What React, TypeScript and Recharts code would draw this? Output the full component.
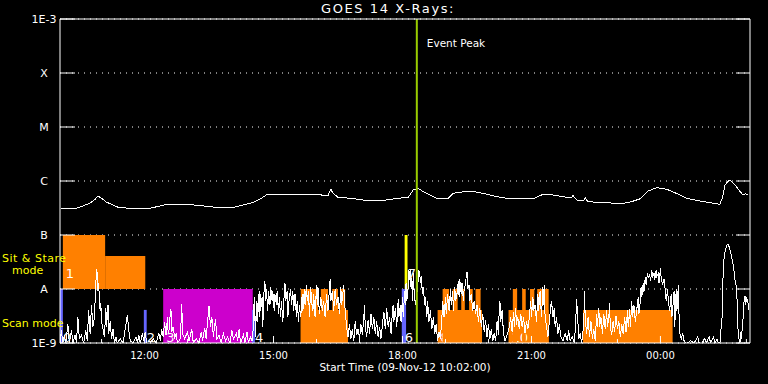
import { ComposedChart, Line, XAxis, YAxis, CartesianGrid, ReferenceArea, ReferenceLine } from "recharts"

// time axis: minutes after 09-Nov-12 10:02:00
const hourTicks = [58, 118, 178, 238, 298, 358, 418, 478, 538, 598, 658, 718, 778, 838, 898, 958]
const majorTicks = [118, 298, 478, 658, 838]
const majorLabels = ["12:00", "15:00", "18:00", "21:00", "00:00"]

const fluxTicks = [1e-9, 1e-8, 1e-7, 1e-6, 1e-5, 1e-4, 1e-3]
const fluxLabels = ["1E-9", "A", "B", "C", "M", "X", "1E-3"]

const eventPeak = 498

// 1-8 A channel, units of 1e-7 W/m2
const longChannel = [
  [1, 3.12], [23, 3.12], [32, 3.44], [42, 3.92], [49, 4.58], [53, 5.27], [58, 4.79], [65, 4.04], [72, 3.71],
  [81, 3.26], [93, 3.16], [121, 3.03], [135, 3.34], [149, 3.71], [167, 3.75], [186, 3.6], [205, 3.4],
  [223, 3.2], [242, 3.26], [256, 3.6], [270, 4.04], [281, 4.79], [288, 5.51], [307, 5.57], [335, 5.74],
  [358, 5.74], [370, 5.34], [374, 5.34], [376, 6.2], [378, 7.02], [381, 5.92], [388, 4.99], [405, 4.79],
  [423, 4.45], [437, 4.32], [456, 4.45], [472, 4.79], [486, 4.99], [493, 6.81], [500, 7.33], [507, 6.34],
  [516, 5.51], [526, 4.79], [542, 4.79], [549, 5.92], [558, 6.18], [572, 6.53], [586, 6.07], [600, 5.51],
  [614, 4.99], [632, 4.64], [651, 4.79], [660, 4.64], [674, 5.67], [688, 5.51], [707, 4.99], [714, 5.0],
  [716, 5.4], [718, 4.9], [723, 4.32], [731, 4.4], [733, 4.99], [735, 4.3], [740, 4.14], [753, 3.96],
  [767, 3.96], [779, 3.75], [795, 4.04], [809, 4.64], [821, 6.53], [833, 7.52], [847, 7.02], [860, 5.92],
  [874, 4.79], [893, 4.26], [912, 3.86], [921, 3.71], [925, 5.12], [928, 8.43], [933, 10.1], [937, 10.0],
  [944, 7.84], [953, 5.51], [957, 5.8], [960, 5.51],
]

// 0.5-4 A channel, units of 1e-9 W/m2 (1 = floor)
const shortChannel = [
  [0, 1], [2, 1.7], [4, 1], [6, 1.4], [8, 1], [11, 2.2], [13, 1], [16, 1.7], [18, 1], [21, 1.4], [23, 1],
  [25, 3], [27, 1.2], [30, 1.4], [33, 1], [36, 1.7], [38, 1.1], [40, 4], [42, 1.5], [44, 5], [46, 2],
  [48, 3], [50, 12], [51, 23], [52, 20], [53, 9], [54, 13], [55, 6], [56, 4], [57, 5.5], [58, 2.5], [60, 1.8],
  [62, 1.3], [64, 4.5], [65, 2], [67, 5], [68, 1.5], [70, 2.5], [72, 1.2], [74, 1.8], [76, 1], [78, 1.3],
  [80, 1], [84, 1.2], [88, 1], [92, 2.2], [94, 3.3], [96, 1.7], [98, 1.1], [102, 1], [106, 1.3], [108, 1],
  [110, 1.4], [112, 1], [115, 1.5], [117, 1.1], [119, 1.6], [121, 1],
  [126, 1], [130, 1.2], [134, 1], [138, 1.5], [140, 1.1], [142, 1.8], [144, 1.3], [146, 2.4], [148, 1.4],
  [150, 3], [151, 1.5], [153, 2], [154, 4.3], [155, 3.8], [156, 1.6], [158, 2], [160, 1.2],
  [162, 1.5], [164, 1], [168, 1.2], [170, 5.2], [171, 1.5], [174, 1.2], [178, 1.6], [180, 1.1], [184, 1.8],
  [186, 1], [190, 1.2], [194, 1], [197, 1.6], [199, 1.1], [202, 1.9], [204, 1.2], [206, 2.5], [208, 4.8],
  [210, 2], [212, 3], [214, 1.3], [217, 2.8], [219, 1.2], [222, 1.4], [225, 1],
  [228, 1.5], [231, 1.1], [234, 1.3], [237, 1], [240, 1.7], [242, 1.2], [246, 1.5], [248, 1.1], [250, 1.8],
  [252, 1], [256, 1.4], [258, 1], [261, 1.6], [263, 1], [266, 1.3], [268, 1.1],
  [270, 2], [271, 7], [272, 3], [273, 1.3], [274, 6], [275, 2.5], [277, 8], [278, 3], [279, 9], [280, 4],
  [282, 7], [283, 2], [285, 11], [286, 14], [287, 6], [288, 10], [290, 4], [291, 9], [293, 5], [294, 11],
  [296, 6], [297, 9], [299, 4], [300, 8], [302, 5], [303, 9], [305, 3.5], [306, 7], [308, 3], [309, 6],
  [311, 2.5], [312, 5], [314, 13], [315, 6], [317, 9], [318, 3], [320, 7], [322, 10], [323, 5], [325, 9],
  [326, 4], [328, 8], [330, 3], [331, 6], [333, 2.5], [334, 5], [336, 3],
  [338, 8], [339, 4], [341, 10], [342, 5], [344, 12], [345, 6], [347, 9], [348, 3], [350, 11], [351, 6],
  [353, 4], [354, 8], [356, 3], [358, 12], [359, 5], [360, 11], [362, 3.5], [364, 7], [366, 4], [368, 6],
  [370, 3], [372, 8], [374, 4], [376, 10], [377, 15], [378, 6], [380, 9], [382, 4], [384, 10], [386, 5],
  [388, 7], [390, 3.5], [392, 11], [393, 5], [395, 9], [396, 12], [398, 4], [400, 2], [402, 1.3], [404, 2.2],
  [406, 1.2], [408, 1.8], [410, 1.1], [412, 2.5], [414, 1.4], [416, 1.8], [418, 1.2], [420, 2.2], [422, 1.4],
  [424, 3], [425, 5], [426, 2], [428, 1.3], [430, 2.7], [432, 1.5], [434, 3.5], [436, 1.8], [438, 3],
  [440, 1.5], [442, 2.5], [444, 1.3], [446, 2], [448, 1.2], [450, 2.2], [452, 3.8], [454, 1.8], [456, 4.4],
  [458, 2], [460, 3], [462, 1.5], [464, 4], [465, 5], [466, 2.5], [468, 4.5], [470, 2], [472, 6.5], [473, 3],
  [475, 5], [476, 2.5], [478, 7], [479, 3], [481, 9], [482, 5], [483, 13], [484, 6], [486, 11], [487, 22],
  [488, 15], [489, 23], [490, 10], [491, 16], [492, 6], [493, 20], [494, 10], [496, 5], [498, 8], [500, 15],
  [501, 22], [502, 20], [503, 13], [504, 17], [506, 8], [507, 11], [509, 5], [510, 7], [512, 3], [513, 6],
  [515, 2.5], [517, 4], [519, 1.8], [521, 3], [523, 1.5], [525, 2.2], [527, 1.1], [529, 1.6], [531, 1.2],
  [533, 3], [534, 6], [536, 3], [538, 7], [539, 3.5], [541, 8], [543, 4], [545, 10], [546, 5], [548, 9],
  [549, 4], [551, 11], [552, 6], [554, 8], [556, 14], [557, 7], [558, 15], [560, 8], [561, 13], [563, 6],
  [564, 10], [566, 12], [567, 18], [568, 21], [569, 10], [571, 12], [572, 6], [574, 8], [576, 4], [578, 6],
  [580, 3.5], [582, 5], [584, 2.5], [586, 4.5], [588, 2], [590, 3.5], [592, 1.6], [594, 2.7], [596, 1.3],
  [598, 2.2], [600, 1.2], [602, 1.8], [604, 1.1], [606, 1.5], [608, 1.1], [610, 2.5], [612, 1.4], [613, 4.3],
  [614, 6], [615, 2.5], [617, 4], [619, 1.5], [621, 1.1], [624, 1.4], [627, 2], [629, 3], [631, 1.6],
  [633, 3.8], [634, 2], [636, 4.5], [637, 2.2], [639, 3], [641, 1.8], [643, 3.5], [645, 2], [647, 3],
  [649, 1.5], [651, 2.5], [653, 1.8], [655, 3], [657, 6], [658, 3], [660, 7], [661, 4], [663, 5], [665, 2.5],
  [667, 8], [668, 4], [670, 9], [671, 5], [672, 3], [674, 11], [675, 5], [676, 12], [677, 3], [679, 2],
  [681, 1.3], [683, 2.5], [685, 5], [686, 6], [688, 3], [690, 4.5], [691, 2], [693, 3], [695, 1.5],
  [697, 2.2], [699, 1.3], [702, 1.1], [705, 1.5], [708, 1.1], [710, 1.7], [712, 1.1], [715, 1.3], [718, 1],
  [720, 3], [721, 6.5], [722, 4], [724, 1.2], [726, 1.5], [728, 1], [731, 2.2], [732, 9], [733, 3], [735, 1.5],
  [737, 3], [739, 1.3], [741, 2.5], [743, 1.2], [745, 1.8], [747, 1.1], [749, 3.5], [750, 2], [752, 4.5],
  [753, 2], [755, 3], [757, 1.5], [759, 3.5], [761, 1.8], [763, 4], [764, 2], [766, 3], [767, 5.5], [768, 2],
  [770, 1.4], [772, 2.6], [774, 1.6], [776, 3.2], [778, 1.8], [780, 2.5], [782, 1.3], [784, 2.2], [786, 1.5],
  [788, 3], [790, 1.6], [792, 4], [793, 2], [795, 4.2], [796, 2], [798, 6], [799, 3], [801, 5], [803, 2.5],
  [805, 4.2], [807, 7], [808, 3.5], [810, 6], [811, 11], [812, 7], [814, 13], [815, 9], [817, 17], [818, 12],
  [820, 20], [821, 16], [823, 19], [824, 14], [826, 22], [827, 16], [829, 20], [830, 15], [832, 22], [833, 17],
  [835, 19], [836, 13], [838, 24], [839, 16], [841, 12], [843, 15], [845, 9], [846, 6], [848, 10], [849, 6],
  [851, 4], [853, 8], [854, 3], [856, 6], [857, 9], [858, 2], [860, 10], [861, 4], [863, 12], [864, 3],
  [865, 1.5], [867, 1.2], [869, 1.5], [871, 1.1], [873, 1], [876, 1], [880, 1.1], [885, 1], [890, 1.3],
  [892, 1], [896, 1], [900, 1.2], [902, 1], [906, 1.3], [908, 1], [912, 1.3], [914, 1], [917, 1.2], [919, 1],
  [921, 1], [922, 1.5], [924, 3], [925, 12], [926, 28], [927, 40], [929, 55], [931, 65], [932, 68], [934, 60],
  [936, 48], [938, 36], [940, 26], [942, 15], [944, 11], [945, 6], [946, 2], [947, 1.3], [949, 1], [950, 1.6],
  [951, 1.2], [953, 2.5], [954, 4], [955, 7], [956, 7.5], [957, 5], [958, 7], [960, 6], [961, 4],
]

// observing blocks: [start, end, top flux, mode, label]
const stareBlocks: [number, number, number, string, string][] = [
  [4, 63, 1e-7, "seq", "1"],
  [63, 119, 4.1e-8, "seq", ""],
  [481, 485, 1e-7, "flare", "7"],
]
const scanBlocks: [number, number, number, string, string][] = [
  [0, 4, 1e-8, "cal", "0"],
  [117, 121, 4.1e-9, "cal", "2"],
  [144, 269, 1e-8, "patrol", "3"],
  [268, 272, 4.1e-9, "cal", "4"],
  [336, 402, 4.1e-9, "seq", "5"],
  [336, 360, 1e-8, "seq", ""], [364, 374, 1e-8, "seq", ""], [380, 388, 1e-8, "seq", ""], [391, 398, 1e-8, "seq", ""],
  [477, 483, 1e-8, "cal", "6"],
  [527, 589, 4.1e-9, "seq", "8"],
  [534, 543, 1e-8, "seq", ""], [548, 555, 1e-8, "seq", ""], [560, 565, 1e-8, "seq", ""], [571, 576, 1e-8, "seq", ""], [580, 587, 1e-8, "seq", ""],
  [626, 682, 4.1e-9, "seq", "10"],
  [632, 638, 1e-8, "seq", ""], [645, 650, 1e-8, "seq", ""], [656, 662, 1e-8, "seq", ""], [666, 673, 1e-8, "seq", ""], [677, 682, 1e-8, "seq", ""],
  [730, 855, 4.1e-9, "seq", ""],
]

const modeColors: Record<string, string> = { seq: "#ff8000", patrol: "#cc00cc", cal: "#6666ff", flare: "#ffff00" }

const longData = longChannel.map(([t, v]) => ({ t, v: v * 1e-7 }))
const shortData = shortChannel.map(([t, v]) => ({ t, v: v * 1e-9 }))

const font = "DejaVu Sans"

const BottomTick = ({ x, y, payload }: any) => {
  const i = majorTicks.indexOf(payload.value)
  return (
    <g>
      <line x1={x} x2={x} y1={y} y2={y - (i >= 0 ? 7 : 4)} stroke="#fff" />
      {i >= 0 && (
        <text x={x} y={y + 16} textAnchor="middle" fill="#fff" fontSize={10} fontFamily={font}>{majorLabels[i]}</text>
      )}
    </g>
  )
}

const TopTick = ({ x, y, payload }: any) => {
  const major = majorTicks.includes(payload.value)
  return <line x1={x} x2={x} y1={y} y2={y + (major ? 7 : 4)} stroke="#fff" />
}

const LeftTick = ({ x, y, payload }: any) => {
  const i = fluxTicks.indexOf(payload.value)
  return (
    <g>
      <line x1={x} x2={x + 15} y1={y} y2={y} stroke="#fff" />
      <text x={x - 16} y={y + 4} textAnchor="middle" fill="#fff" fontSize={11} fontFamily={font}>{fluxLabels[i]}</text>
    </g>
  )
}

const RightTick = ({ x, y }: any) => <line x1={x} x2={x - 14} y1={y} y2={y} stroke="#fff" />

const blockLabel = (text: string, lift: number) => (props: any) => {
  const { x, y, height } = props.viewBox
  return (
    <text x={x + 3} y={y + height - lift} fill="#fff" fontSize={13} fontFamily={font}>{text}</text>
  )
}

const modeText = { position: "absolute" as const, color: "#ffff00", fontSize: 11, lineHeight: "11px", whiteSpace: "nowrap" as const }

export default function App() {
  return (
    <div style={{ position: "relative", width: 768, height: 384, background: "#000", fontFamily: font }}>
      <style>{`body{margin:0;background:#000}.recharts-line-curve{shape-rendering:crispEdges}`}</style>
      <ComposedChart width={768} height={384} margin={{ top: 0, right: 0, bottom: 0, left: 0 }}>
        <CartesianGrid vertical={false} stroke="#fff" strokeDasharray="1 5" />
        <XAxis dataKey="t" type="number" domain={[0, 963]} allowDataOverflow ticks={hourTicks} interval={0}
          height={41} tickSize={0} tickMargin={0} tickLine={false} stroke="#fff" tick={<BottomTick />} />
        <XAxis xAxisId="top" orientation="top" type="number" domain={[0, 963]} allowDataOverflow ticks={hourTicks} interval={0}
          height={19} tickSize={0} tickMargin={0} tickLine={false} stroke="#fff" tick={<TopTick />} />
        <YAxis scale="log" domain={[1e-9, 1e-3]} allowDataOverflow ticks={fluxTicks} interval={0}
          width={60} tickSize={0} tickMargin={0} tickLine={false} stroke="#fff" tick={<LeftTick />} />
        <YAxis yAxisId="r" orientation="right" scale="log" domain={[1e-9, 1e-3]} allowDataOverflow ticks={fluxTicks} interval={0}
          width={18} tickSize={0} tickMargin={0} tickLine={false} stroke="#fff" tick={<RightTick />} />

        {stareBlocks.map(([a, b, top, mode, label], i) => (
          <ReferenceArea key={"s" + i} x1={a} x2={b} y1={1e-8} y2={top} fill={modeColors[mode]} fillOpacity={1}
            stroke="none" label={label ? blockLabel(label, 11) : undefined} />
        ))}
        {scanBlocks.map(([a, b, top, mode, label], i) => (
          <ReferenceArea key={"c" + i} x1={a} x2={b} y1={1e-9} y2={top} fill={modeColors[mode]} fillOpacity={1}
            stroke="none" label={label ? blockLabel(label, 1) : undefined} />
        ))}

        <Line data={shortData} dataKey="v" type="linear" stroke="#fff" strokeWidth={1} dot={false} isAnimationActive={false} />
        <Line data={longData} dataKey="v" type="linear" stroke="#fff" strokeWidth={1} dot={false} isAnimationActive={false} />

        <ReferenceLine x={eventPeak} stroke="#99cc00" strokeWidth={2}
          label={(p: any) => (
            <text x={p.viewBox.x + 10} y={p.viewBox.y + 28} fill="#fff" fontSize={10.5} fontFamily={font}>Event Peak</text>
          )} />
      </ComposedChart>

      <div style={{ position: "absolute", left: 388, top: 2, transform: "translateX(-50%)", color: "#fff", fontSize: 13, letterSpacing: 1.6, lineHeight: 1, whiteSpace: "nowrap" }}>
        GOES 14 X-Rays:
      </div>
      <div style={{ position: "absolute", left: 405, top: 362, transform: "translateX(-50%)", color: "#fff", fontSize: 10.5, lineHeight: 1, whiteSpace: "nowrap" }}>
        Start Time (09-Nov-12 10:02:00)
      </div>
      <div style={{ ...modeText, left: 2, top: 253, letterSpacing: 0.5 }}>Sit &amp; Stare</div>
      <div style={{ ...modeText, left: 12, top: 265 }}>mode</div>
      <div style={{ ...modeText, left: 2, top: 318 }}>Scan mode</div>
    </div>
  )
}
